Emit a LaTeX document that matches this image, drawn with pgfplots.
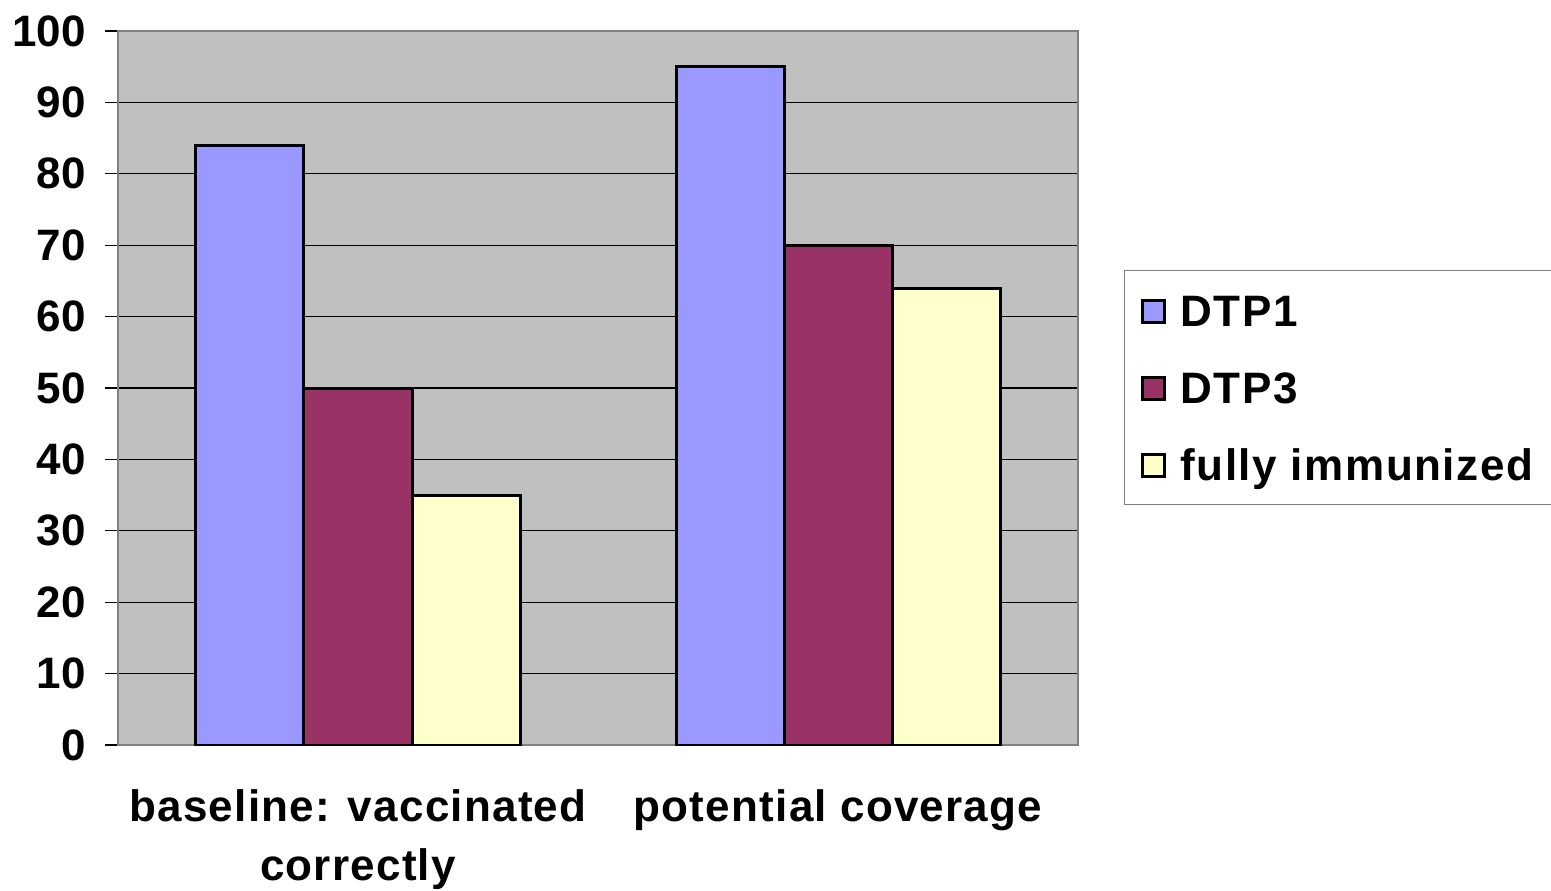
\documentclass[border=0pt]{standalone}
\usepackage{pgfplots}
\pgfplotsset{compat=1.18}
\usepackage{fontspec}
\setmainfont{Liberation Sans}
\newfontfamily\spaced[LetterSpace=3.5]{Liberation Sans}
\newfontfamily\spacedx[LetterSpace=2.8]{Liberation Sans}
\definecolor{dtpone}{HTML}{9999FF}
\definecolor{dtpthree}{HTML}{993366}
\definecolor{fully}{HTML}{FFFFCC}
\definecolor{plotbg}{HTML}{C0C0C0}
\definecolor{frame}{HTML}{808080}
\newcommand{\lbl}{\fontsize{22}{29.5}\selectfont\bfseries}
\newcommand{\slbl}{\spaced\fontsize{22}{29.5}\selectfont\bfseries}
\newcommand{\xlbl}{\spacedx\fontsize{22}{29.5}\selectfont\bfseries}
\begin{document}
\begin{tikzpicture}
\begin{axis}[
  scale only axis,
  width=480pt, height=357pt,
  ybar=0pt, bar width=54pt,
  xmin=-0.5, xmax=1.5,
  ymin=0, ymax=100,
  ytick={0,10,...,100},
  xtick={0,1},
  xticklabels={{baseline: vaccinated\\correctly}, {potential coverage}},
  ytick pos=left, xtick pos=bottom,
  major x tick style={draw=none},
  extra x ticks={-0.5,0.5,1.5},
  extra x tick labels={},
  extra x tick style={major tick length=6.5pt, tick align=outside, tick style={black, line width=0.6pt}, grid=none},
  tick align=outside,
  major tick length=6.5pt,
  ytick style={black, line width=0.6pt},
  ymajorgrids,
  grid style={black, line width=0.6pt},
  axis line style={frame, line width=1pt},
  axis background/.style={fill=plotbg},
  /pgf/number format/assume math mode=true,
  yticklabel style={font=\lbl, xshift=-6pt},
  xticklabel style={font=\xlbl, align=center, yshift=-12.5pt},
  legend style={
    at={(1.0479,0.336)}, anchor=south west,
    draw=frame, line width=0.6pt, fill=white,
    inner xsep=8pt, inner ysep=9pt,
    font=\slbl, row sep=16.5pt, column sep=5.5pt,
    nodes={text height=19pt, text depth=3pt, inner ysep=0pt},
  },
  legend cell align=left,
  legend image code/.code={
    \draw[#1, draw=black, line width=1.5pt] (0pt,-6pt) rectangle (11pt,5pt);
  },
  every axis plot/.append style={draw=black, line width=1.5pt},
]
\addplot[fill=dtpone]   coordinates {(0,84) (1,95)};
\addplot[fill=dtpthree] coordinates {(0,50) (1,70)};
\addplot[fill=fully]    coordinates {(0,35) (1,64)};
\legend{DTP1, DTP3, fully immunized}
\end{axis}
\pgfresetboundingbox
\useasboundingbox (-59pt,-72.5pt) rectangle (716.5pt,372.5pt);
\end{tikzpicture}
\end{document}
